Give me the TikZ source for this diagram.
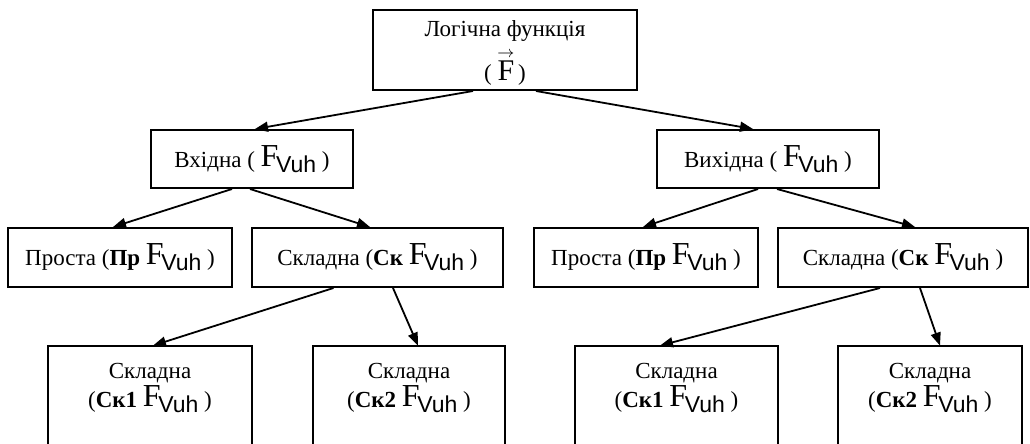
\documentclass[tikz,border=0pt]{standalone}
\usepackage{fontspec}
\setmainfont{Liberation Serif}
\setsansfont{Liberation Sans}
\usetikzlibrary{arrows.meta,calc}
\newcommand{\FV}{\raisebox{0.5pt}{\fontsize{16}{16}\selectfont F}\kern-1.2pt\raisebox{-2.5pt}{\sffamily Vuh}}
\newcommand{\Fvec}{{\fontsize{15}{15}\selectfont\setbox0\hbox{F}\rlap{\hbox to \wd0{\hss\raisebox{11.5pt}{\fontsize{8}{8}\selectfont$\rightarrow$}\hss}}F}}
\tikzset{
  box/.style={draw, line width=1pt, inner sep=0pt, align=center, font=\fontsize{11.5}{13}\selectfont},
  lowbox/.style={inner sep=0pt, align=center, font=\fontsize{11.5}{13}\selectfont, minimum height=42pt},
  arr/.style={line width=0.9pt, -{Triangle[length=6.5pt,width=5pt]}},
}
\begin{document}
\begin{tikzpicture}[x=0.5pt,y=-0.5pt]
\clip (0,0) rectangle (1030,444);
\fill[white] (0,0) rectangle (1030,444);
% top
\node[box, minimum width=132pt, minimum height=40pt] (top) at (505,50) {\rule{0pt}{10.5pt}Логічна функція\\[4pt]( \Fvec\,)};
% row 2
\node[box, minimum width=101pt, minimum height=29pt] (in) at (252,159) {Вхідна ( \FV{} )};
\node[box, minimum width=111pt, minimum height=29pt] (out) at (768,159) {Вихідна ( \FV{} )};
% row 3
\node[box, minimum width=112pt, minimum height=29.5pt] (lp) at (120,257.5) {Проста (\textbf{Пр} \FV{} )};
\node[box, minimum width=125.5pt, minimum height=29.5pt] (ls) at (377.5,257.5) {Складна (\textbf{Ск} \FV{} )};
\node[box, minimum width=112pt, minimum height=29.5pt] (rp) at (646,257.5) {Проста (\textbf{Пр} \FV{} )};
\node[box, minimum width=125pt, minimum height=29.5pt] (rs) at (903,257.5) {Складна (\textbf{Ск} \FV{} )};
% row 4
\node[lowbox, minimum width=102pt] (l1) at (150,388) {Складна\\(\textbf{Ск1} \FV{} )};
\node[lowbox, minimum width=96pt] (l2) at (409,388) {Складна\\(\textbf{Ск2} \FV{} )};
\node[lowbox, minimum width=101.5pt] (r1) at (676.5,388) {Складна\\(\textbf{Ск1} \FV{} )};
\node[lowbox, minimum width=92pt] (r2) at (930,388) {Складна\\(\textbf{Ск2} \FV{} )};
\foreach \n in {l1,l2,r1,r2}{
  \draw[line width=1pt] (\n.north west) rectangle ($(\n.north east)+(0,140)$);
}
% arrows
\draw[arr] ([xshift=-16pt]top.south) -- ([xshift=1.5pt]in.north);
\draw[arr] ([xshift=15.5pt]top.south) -- ([xshift=-7.5pt]out.north);
\draw[arr] ([xshift=-10pt]in.south) -- ([xshift=-3.5pt]lp.north);
\draw[arr] ([xshift=-1pt]in.south) -- ([xshift=-3.75pt]ls.north);
\draw[arr] ([xshift=-5pt]out.south) -- ([xshift=-1.5pt]rp.north);
\draw[arr] ([xshift=4.5pt]out.south) -- ([xshift=6pt]rs.north);
\draw[arr] ([xshift=-22pt]ls.south) -- ([xshift=1.5pt]l1.north);
\draw[arr] ([xshift=7.75pt]ls.south) -- ([xshift=4.5pt]l2.north);
\draw[arr] ([xshift=-11.5pt]rs.south) -- ([xshift=-8.25pt]r1.north);
\draw[arr] ([xshift=8.5pt]rs.south) -- ([xshift=5pt]r2.north);
\end{tikzpicture}
\end{document}
